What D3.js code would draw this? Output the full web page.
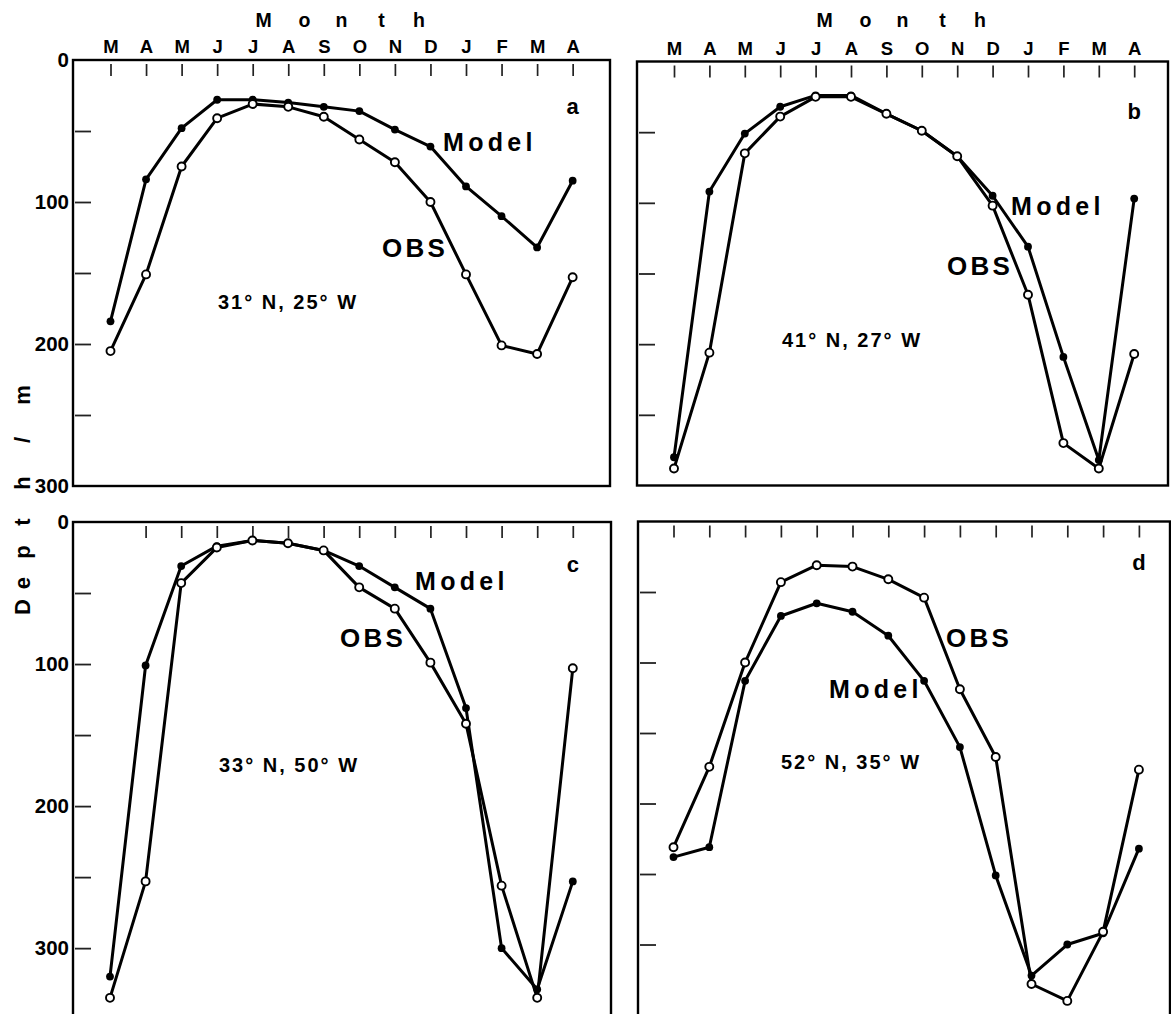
<!DOCTYPE html>
<html>
<head>
<meta charset="utf-8">
<script src="https://cdn.jsdelivr.net/npm/d3@7"></script>
<style>
  body { margin: 0; background: #fff; }
  svg { display: block; font-family: "Liberation Sans", Arial, Helvetica, sans-serif; }
</style>
</head>
<body>
<script>
// month sequence, March to April of the following year
const months = ["M", "A", "M", "J", "J", "A", "S", "O", "N", "D", "J", "F", "M", "A"];
const depthTicks = [50, 100, 150, 200, 250, 300];
const depthLabels = [0, 100, 200, 300];

// mixed layer depth (m), model vs observations
const modelA = [184, 84, 48, 28, 28, 30, 33, 36, 49, 61, 89, 110, 132, 85];
const obsA   = [205, 151, 75, 41, 31, 33, 40, 56, 72, 100, 151, 201, 207, 153];
const modelB = [280, 92, 51, 32, 24, 24, 37, 49, 67, 95, 131, 209, 282, 97];
const obsB   = [288, 206, 65, 39, 25, 25, 37, 49, 67, 102, 165, 270, 288, 207];
const modelC = [320, 101, 31, 17, 13, 15, 20, 31, 46, 61, 131, 300, 329, 253];
const obsC   = [335, 253, 43, 18, 13, 15, 20, 46, 61, 99, 142, 256, 335, 103];
const modelD = [238, 231, 113, 67, 58, 64, 81, 113, 160, 251, 322, 300, 292, 232];
const obsD   = [231, 174, 100, 43, 31, 32, 41, 54, 119, 167, 328, 340, 291, 176];

const places = ["31° N, 25° W", "41° N, 27° W", "33° N, 50° W", "52° N, 35° W"];

const W = 1171, H = 1014;

const svg = d3.select("body").append("svg")
  .attr("width", W)
  .attr("height", H);

svg.append("rect").attr("width", W).attr("height", H).attr("fill", "#fff");

const panels = [
  { id: "a", x: 73, y: 60, w: 537, h: 426, max: 300, x0: 37.5, step: 35.55,
    model: modelA, obs: obsA, place: places[0], left: true, top: true, firstTick: true,
    modelPos: [370, 91], obsPos: [309, 197], placePos: [145, 249], letterY: 54 },
  { id: "b", x: 637, y: 61.5, w: 531, h: 424, max: 300, x0: 37, step: 35.4,
    model: modelB, obs: obsB, place: places[1], left: false, top: true, firstTick: true,
    modelPos: [374, 153.5], obsPos: [310, 213.5], placePos: [145, 285], letterY: 57 },
  { id: "c", x: 73, y: 522, w: 538, h: 500, max: 352, x0: 37, step: 35.6,
    model: modelC, obs: obsC, place: places[2], left: true, top: false, firstTick: false,
    modelPos: [342, 68], obsPos: [267, 125], placePos: [146, 250], letterY: 50 },
  { id: "d", x: 638, y: 521.5, w: 532, h: 500, max: 354.6, x0: 35.5, step: 35.8,
    model: modelD, obs: obsD, place: places[3], left: false, top: false, firstTick: true,
    modelPos: [191, 176.5], obsPos: [308, 125.5], placePos: [143, 247.5], letterY: 48.5 }
];

const idx = d3.range(months.length);

panels.forEach(p => {
  const g = svg.append("g").attr("transform", `translate(${p.x},${p.y})`);

  const x = d3.scaleLinear().domain([0, months.length - 1])
    .range([p.x0, p.x0 + p.step * (months.length - 1)]);
  const y = d3.scaleLinear().domain([0, p.max]).range([0, p.h]);

  // month ticks hanging from the top edge
  const xt = g.append("g")
    .attr("transform", "translate(0,4)")
    .call(d3.axisBottom(x)
      .tickValues(p.firstTick ? idx : idx.slice(1))
      .tickSize(12)
      .tickFormat(""));
  xt.select(".domain").remove();
  xt.selectAll("line").attr("stroke-width", 1.7).attr("stroke", "#222");

  // depth ticks on the left edge
  const yt = g.append("g")
    .attr("transform", "translate(2,0)")
    .call(d3.axisRight(y).tickValues(depthTicks.filter(v => v < p.max)).tickSize(16).tickFormat(""));
  yt.select(".domain").remove();
  yt.selectAll("line").attr("stroke-width", 1.8).attr("stroke", "#222");

  if (p.left) {
    const yl = g.append("g")
      .call(d3.axisLeft(y).tickValues(depthLabels).tickSize(0).tickPadding(4));
    yl.select(".domain").remove();
    yl.attr("font-size", 20.5).attr("font-family", null).attr("font-weight", "bold");
  }

  if (p.top) {
    const ml = g.append("g")
      .call(d3.axisTop(x).tickValues(idx).tickFormat(i => months[i]).tickSize(0).tickPadding(7));
    ml.select(".domain").remove();
    ml.attr("font-size", 18.5).attr("font-family", null).attr("font-weight", "bold");

    const title = ["M", "o", "n", "t", "h"];
    const offs = [-78, -37, 0, 40, 77.5];
    g.append("g").selectAll("text")
      .data(title)
      .join("text")
      .attr("x", (d, i) => p.w / 2 + offs[i])
      .attr("y", 27 - p.y)
      .attr("text-anchor", "middle")
      .attr("font-size", 19.5)
      .attr("font-weight", "bold")
      .text(d => d);
  }

  // frame
  g.append("rect")
    .attr("width", p.w)
    .attr("height", p.h)
    .attr("fill", "none")
    .attr("stroke", "#000")
    .attr("stroke-width", 2.4);

  const line = d3.line().x((d, i) => x(i)).y(d => y(d));

  [p.obs, p.model].forEach(series => {
    g.append("path")
      .datum(series)
      .attr("d", line)
      .attr("fill", "none")
      .attr("stroke", "#000")
      .attr("stroke-width", 3)
      .attr("stroke-linejoin", "round");
  });

  g.append("g").selectAll("circle")
    .data(p.model)
    .join("circle")
    .attr("cx", (d, i) => x(i))
    .attr("cy", d => y(d))
    .attr("r", 3.9)
    .attr("fill", "#000");

  g.append("g").selectAll("circle")
    .data(p.obs)
    .join("circle")
    .attr("cx", (d, i) => x(i))
    .attr("cy", d => y(d))
    .attr("r", 4)
    .attr("fill", "#fff")
    .attr("stroke", "#000")
    .attr("stroke-width", 1.9);

  g.append("text")
    .attr("x", p.modelPos[0]).attr("y", p.modelPos[1])
    .attr("font-size", 25).attr("font-weight", "bold")
    .attr("letter-spacing", 4.3)
    .text("Model");

  g.append("text")
    .attr("x", p.obsPos[0]).attr("y", p.obsPos[1])
    .attr("font-size", 26).attr("font-weight", "bold")
    .attr("letter-spacing", 3.2)
    .text("OBS");

  g.append("text")
    .attr("x", p.placePos[0]).attr("y", p.placePos[1])
    .attr("font-size", 20).attr("font-weight", "bold")
    .attr("letter-spacing", 2)
    .text(p.place);

  g.append("text")
    .attr("x", x(months.length - 1)).attr("y", p.letterY)
    .attr("text-anchor", "middle")
    .attr("font-size", 22).attr("font-weight", "bold")
    .text(p.id);
});

// rotated axis title, letters spread along the left margin
const yTitle = [["D", 607], ["e", 583], ["p", 552], ["t", 522], ["h", 483], ["/", 440], ["m", 395]];
svg.append("g").selectAll("text")
  .data(yTitle)
  .join("text")
  .attr("transform", d => `translate(30,${d[1]}) rotate(-90)`)
  .attr("text-anchor", "middle")
  .attr("font-size", 22)
  .attr("font-weight", "bold")
  .text(d => d[0]);
</script>
</body>
</html>
